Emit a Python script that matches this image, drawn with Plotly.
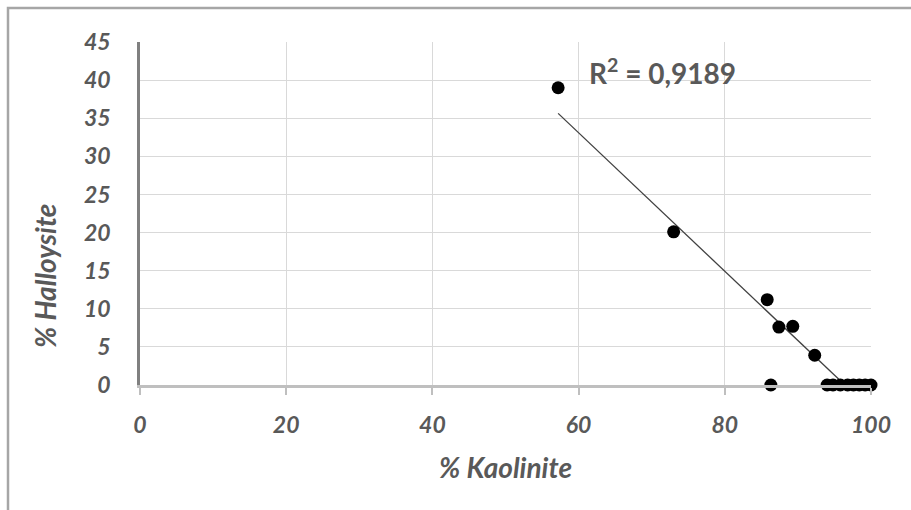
import numpy as np
import plotly.graph_objects as go

kaolinite = [57.2, 73.0, 85.8, 87.4, 89.3, 92.3, 86.3,
             94.0, 94.8, 95.8, 96.8, 97.6, 98.4, 99.2, 100.0]
halloysite = [39.0, 20.1, 11.2, 7.6, 7.7, 3.9, 0.0,
              0, 0, 0, 0, 0, 0, 0, 0]
x_ticks = [0, 20, 40, 60, 80, 100]
y_ticks = [0, 5, 10, 15, 20, 25, 30, 35, 40, 45]
r2_label = "R<sup>2</sup> = 0,9189"

slope, intercept = np.polyfit(kaolinite, halloysite, 1)
x0 = min(kaolinite)
x1 = -intercept / slope
trend_x = [x0, x1]
trend_y = [slope * x0 + intercept, slope * x1 + intercept]

FONT = "Lato"
GREY = "#595959"

fig = go.Figure()
fig.add_trace(go.Scatter(x=trend_x, y=trend_y, mode="lines",
                         line=dict(color="#404040", width=1.3),
                         hoverinfo="skip", showlegend=False))
fig.add_trace(go.Scatter(x=kaolinite, y=halloysite, mode="markers",
                         marker=dict(color="black", size=13),
                         cliponaxis=False, showlegend=False))

fig.update_layout(
    width=911, height=510,
    margin=dict(l=140, r=40, t=42, b=125),
    paper_bgcolor="white", plot_bgcolor="white",
    font=dict(family=FONT, color=GREY),
    showlegend=False,
)
fig.update_xaxes(range=[0, 100], tickvals=x_ticks, showgrid=True,
                 gridcolor="#d9d9d9", gridwidth=1.3, zeroline=False,
                 showline=True, linecolor="#bfbfbf", linewidth=2.5,
                 ticks="outside", ticklen=7, tickcolor="#bfbfbf", tickwidth=2,
                 ticklabelstandoff=11,
                 tickfont=dict(family=FONT, size=23, color=GREY,
                               weight="bold", style="italic"))
fig.update_yaxes(range=[0, 45], tickvals=y_ticks, showgrid=True,
                 gridcolor="#d9d9d9", gridwidth=1.3, zeroline=False,
                 showline=True, linecolor="#808080", linewidth=2.5,
                 ticks="", ticklabelstandoff=22,
                 tickfont=dict(family=FONT, size=23, color=GREY,
                               weight="bold", style="italic"))

fig.add_annotation(text="% Kaolinite", xref="paper", yref="paper",
                   x=0.5, y=(385 - 467) / 343, showarrow=False,
                   xanchor="center", yanchor="middle",
                   font=dict(family=FONT, size=28, color=GREY,
                             weight="bold", style="italic"))
fig.add_annotation(text="% Halloysite", xref="paper", yref="paper",
                   x=(45 - 140) / 731, y=(385 - 275) / 343, showarrow=False,
                   xanchor="center", yanchor="middle",
                   textangle=-90,
                   font=dict(family=FONT, size=28, color=GREY,
                             weight="bold", style="italic"))
fig.add_annotation(text=r2_label, xref="paper", yref="paper",
                   x=(587 - 140) / 731, y=(385 - 72) / 343, showarrow=False,
                   xanchor="left", yanchor="middle",
                   font=dict(family=FONT, size=28, color=GREY, weight="bold"))

fig.add_shape(type="rect", xref="paper", yref="paper",
              x0=(8 - 140) / 731, x1=1.2, y0=-0.5, y1=1 + (42 - 8) / 343,
              line=dict(color="#a6a6a6", width=2.5), layer="below")

fig.write_html("out.html")
